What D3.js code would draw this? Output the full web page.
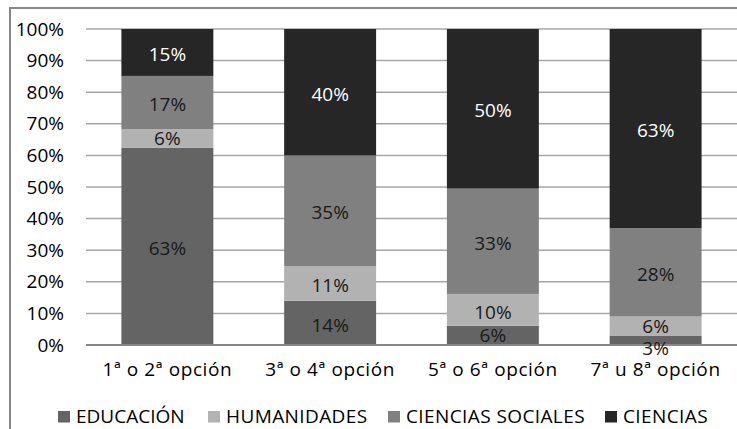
<!DOCTYPE html>
<html>
<head>
<meta charset="utf-8">
<script src="https://cdn.jsdelivr.net/npm/d3@7"></script>
<style>
  body { margin: 0; background: #fff; }
  svg { display: block; font-family: "Open Sans", sans-serif; }
</style>
</head>
<body>
<svg></svg>
<script>
let categories = ['1ª o 2ª opción', '3ª o 4ª opción', '5ª o 6ª opción', '7ª u 8ª opción'];
let seriesNames = ['EDUCACIÓN', 'HUMANIDADES', 'CIENCIAS SOCIALES', 'CIENCIAS'];
let educacion = [63, 14, 6, 3];
let humanidades = [6, 11, 10, 6];
let cienciasSociales = [17, 35, 33, 28];
let ciencias = [15, 40, 50, 63];
let yTicks = [0, 0.1, 0.2, 0.3, 0.4, 0.5, 0.6, 0.7, 0.8, 0.9, 1];

let w = 737;
let h = 429;
let fontSize = 19;
let colors = ['#646464', '#b2b2b2', '#808080', '#262626'];
let labelColors = ['#1a1a1a', '#1a1a1a', '#1a1a1a', '#ffffff'];
let plot = { left: 86, right: 737, top: 29, bottom: 345 };

let svg = d3.select('svg').attr('width', w).attr('height', h);

// rows for the stack (100% stacked, so each column is normalised)
let rows = categories.map((c, i) => {
  return { cat: c, 0: educacion[i], 1: humanidades[i], 2: cienciasSociales[i], 3: ciencias[i] };
});
let stacked = d3.stack()
  .keys([0, 1, 2, 3])
  .offset(d3.stackOffsetExpand)(rows);

let xScale = d3.scaleBand()
  .domain(categories)
  .range([plot.left, plot.right])
  .paddingInner(0.435)
  .paddingOuter(0.2175);

let yScale = d3.scaleLinear()
  .domain([0, 1])
  .range([plot.bottom, plot.top]);

// outer frame (cut by the picture edges on the right and bottom)
svg.append('rect')
  .attr('x', 10).attr('y', 8)
  .attr('width', w + 20).attr('height', h + 20)
  .attr('fill', 'none')
  .attr('stroke', '#868686')
  .attr('stroke-width', 2);

// gridlines
svg.append('g')
  .selectAll('line')
  .data(yTicks.slice(1))
  .enter()
  .append('line')
  .attr('x1', plot.left).attr('x2', plot.right)
  .attr('y1', d => yScale(d)).attr('y2', d => yScale(d))
  .attr('stroke', '#a6a6a6')
  .attr('stroke-width', 1.5);

// bars
let groups = svg.append('g')
  .selectAll('g')
  .data(stacked)
  .enter()
  .append('g')
  .attr('fill', (d, i) => colors[i]);

groups.selectAll('rect')
  .data(d => d)
  .enter()
  .append('rect')
  .attr('x', d => xScale(d.data.cat))
  .attr('width', xScale.bandwidth())
  .attr('y', d => yScale(d[1]))
  .attr('height', d => yScale(d[0]) - yScale(d[1]));

// x axis line
svg.append('line')
  .attr('x1', plot.left).attr('x2', plot.right)
  .attr('y1', plot.bottom).attr('y2', plot.bottom)
  .attr('stroke', '#868686')
  .attr('stroke-width', 2);

// y axis
let yAxis = d3.axisLeft(yScale)
  .tickValues(yTicks)
  .tickFormat(d3.format('.0%'))
  .tickSize(0)
  .tickPadding(22);
svg.append('g')
  .attr('transform', 'translate(' + plot.left + ',0)')
  .call(yAxis)
  .call(g => g.select('.domain').remove())
  .selectAll('text')
  .attr('font-family', '"Open Sans", sans-serif')
  .attr('font-size', fontSize)
  .attr('fill', '#000');

// x axis labels
let xAxis = d3.axisBottom(xScale).tickSize(0).tickPadding(18);
svg.append('g')
  .attr('transform', 'translate(0,' + plot.bottom + ')')
  .call(xAxis)
  .call(g => g.select('.domain').remove())
  .selectAll('text')
  .attr('font-family', '"Open Sans", sans-serif')
  .attr('font-size', fontSize)
  .attr('letter-spacing', 0.6)
  .attr('fill', '#000');

// data labels
let allValues = [educacion, humanidades, cienciasSociales, ciencias];
stacked.forEach((s, si) => {
  svg.append('g')
    .selectAll('text')
    .data(s)
    .enter()
    .append('text')
    .attr('x', d => xScale(d.data.cat) + xScale.bandwidth() / 2)
    .attr('y', d => {
      let y0 = yScale(d[0]), y1 = yScale(d[1]);
      if (y0 - y1 < 14) return y0 + 3;   // too thin: label sits under the bar
      if (y0 - y1 < 24) return (y0 + y1) / 2;
      return (y0 + y1) / 2 + 2;
    })
    .attr('dy', '0.35em')
    .attr('text-anchor', 'middle')
    .attr('font-size', fontSize)
    .attr('fill', labelColors[si])
    .text((d, i) => allValues[si][i] + '%');
});

// legend
let legendX = [58, 208, 388, 605];
let legend = svg.append('g')
  .selectAll('g')
  .data(seriesNames)
  .enter()
  .append('g')
  .attr('transform', (d, i) => 'translate(' + legendX[i] + ',416)');
legend.append('rect')
  .attr('x', 0).attr('y', -5)
  .attr('width', 12).attr('height', 11.5)
  .attr('fill', (d, i) => colors[i]);
legend.append('text')
  .attr('x', 18)
  .attr('dy', '0.35em')
  .attr('font-size', fontSize)
  .attr('letter-spacing', (d, i) => i === 0 ? 0 : 0.4)
  .attr('fill', '#000')
  .text(d => d);
</script>
</body>
</html>
